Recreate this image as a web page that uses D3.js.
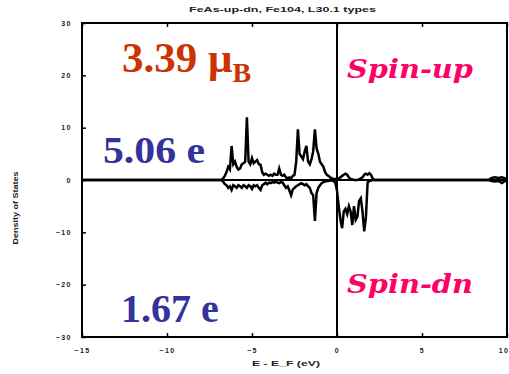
<!DOCTYPE html>
<html>
<head>
<meta charset="utf-8">
<script src="https://cdn.jsdelivr.net/npm/d3@7"></script>
<style>
  html, body { margin: 0; padding: 0; background: #fff; }
  svg { display: block; }
</style>
</head>
<body>
<svg id="chart" width="509" height="374"></svg>
<script>
// Energy grid (eV, relative to E_F) and spin-resolved DOS values
const energies = [
  -15.0, -7.0, -6.9, -6.8, -6.7, -6.6, -6.5, -6.4, -6.3, -6.2, -6.1, -6.0,
  -5.9, -5.8, -5.7, -5.6, -5.5, -5.4, -5.3, -5.2, -5.1, -5.0,
  -4.9, -4.8, -4.7, -4.6, -4.5, -4.4, -4.3, -4.2, -4.1, -4.0,
  -3.9, -3.8, -3.7, -3.6, -3.5, -3.4, -3.3, -3.2, -3.1, -3.0,
  -2.9, -2.8, -2.7, -2.6, -2.5, -2.4, -2.3, -2.2, -2.1, -2.0,
  -1.9, -1.8, -1.7, -1.6, -1.5, -1.4, -1.3, -1.2, -1.1, -1.0,
  -0.9, -0.8, -0.7, -0.6, -0.5, -0.4, -0.3, -0.2, -0.1, 0.0,
  0.1, 0.2, 0.3, 0.4, 0.5, 0.6, 0.7, 0.8, 0.9, 1.0,
  1.1, 1.2, 1.3, 1.4, 1.5, 1.6, 1.7, 1.8, 1.9, 2.0,
  2.1, 2.2, 8.9, 9.1, 9.3, 9.5, 9.7, 9.9, 10.0
];
const spinUp = [
  0, 0, 0, 0, 0.3, 0.8, 1.5, 2.5, 2.0, 6.5, 3.0, 3.5,
  2.5, 2.0, 2.2, 3.0, 3.2, 3.5, 12.0, 3.5, 3.0, 4.2,
  3.2, 3.5, 3.8, 3.0, 2.9, 1.5, 1.0, 1.2, 1.0, 0.8,
  1.0, 0.8, 1.2, 1.0, 1.0, 2.2, 1.0, 0.8, 1.0, 0.5,
  0.3, 0.5, 0.3, 0.8, 1.0, 3.5, 9.7, 5.0, 4.5, 4.0,
  5.5, 6.5, 3.5, 3.0, 4.0, 5.5, 9.7, 6.0, 5.0, 3.5,
  3.0, 2.5, 1.5, 1.0, 0.8, 0.5, 0.3, 0.2, 0.2, 0.2,
  0.3, 0.5, 0.8, 1.0, 1.2, 1.0, 0.5, 0.2, 0.1, 0,
  0, 0, 0.1, 0.3, 0.5, 1.0, 1.2, 1.0, 1.3, 1.0,
  0.3, 0, 0, 0.4, 0.5, 0.4, 0.5, 0.3, 0
];
const spinDn = [
  0, 0, 0, 0, -0.3, -0.8, -1.0, -1.5, -1.2, -1.9, -1.0, -1.2,
  -1.5, -1.0, -1.2, -1.5, -1.0, -1.2, -1.5, -1.0, -1.2, -1.7,
  -1.0, -1.2, -1.0, -1.5, -1.9, -1.0, -0.8, -0.5, -0.8, -0.5,
  -0.6, -0.4, -0.5, -0.3, -0.5, -0.6, -0.4, -0.5, -1.0, -1.5,
  -1.2, -2.0, -2.9, -1.8, -1.5, -1.2, -1.0, -0.8, -0.6, -0.8,
  -1.0, -0.8, -1.2, -1.5, -2.5, -2.9, -7.8, -2.5, -1.5, -1.0,
  -0.6, -0.4, -0.3, -0.2, -0.2, -0.1, -0.1, -0.2, -0.5, -2.0,
  -5.0, -7.5, -9.2, -6.0, -5.5, -6.5, -5.0, -6.0, -8.6, -5.0,
  -7.6, -7.0, -4.0, -3.5, -6.0, -9.8, -7.2, -0.5, -0.2, -0.1,
  0, 0, 0, -0.2, -0.3, -0.2, -0.6, -0.2, 0
];
const xTicks = [-15, -10, -5, 0, 5, 10];
const yTicks = [-30, -20, -10, 0, 10, 20, 30];

const svg = d3.select("#chart");
const plotL = 82, plotR = 507, plotT = 23, plotB = 337;

const x = d3.scaleLinear().domain([-15, 10]).range([plotL, plotR]);
const y = d3.scaleLinear().domain([-30, 30]).range([plotB, plotT]);

const sans = "Arial, 'Liberation Sans', sans-serif";

// Title
svg.append("text")
  .attr("x", 189).attr("y", 12)
  .attr("font-family", sans)
  .attr("font-size", 7).attr("font-weight", "bold")
  .attr("fill", "#222")
  .attr("textLength", 187).attr("lengthAdjust", "spacingAndGlyphs")
  .text("FeAs-up-dn, Fe104, L30.1 types");

// Axes with inward ticks
const tickFont = g => g.selectAll("text")
  .attr("font-family", sans)
  .attr("font-size", 7).attr("font-weight", "bold").attr("fill", "#222")
  .attr("letter-spacing", 1.5);

svg.append("g")
  .attr("transform", `translate(0,${plotB})`)
  .call(d3.axisBottom(x).tickValues(xTicks).tickSize(-4).tickPadding(11).tickFormat(d3.format("d")))
  .call(g => g.select(".domain").remove())
  .call(g => g.selectAll("line").attr("stroke", "#000").attr("stroke-width", 1.5))
  .call(tickFont)
  .call(g => g.selectAll("text").filter(d => d === 10).attr("text-anchor", "end").attr("dx", 2));

svg.append("g")
  .attr("transform", `translate(0,${plotT})`)
  .call(d3.axisTop(x).tickValues(xTicks).tickSize(-4).tickFormat(""))
  .call(g => g.select(".domain").remove())
  .call(g => g.selectAll("line").attr("stroke", "#000").attr("stroke-width", 1.5));

svg.append("g")
  .attr("transform", `translate(${plotL},0)`)
  .call(d3.axisLeft(y).tickValues(yTicks).tickSize(-4).tickPadding(10).tickFormat(d3.format("d")))
  .call(g => g.select(".domain").remove())
  .call(g => g.selectAll("line").attr("stroke", "#000").attr("stroke-width", 1.5))
  .call(tickFont);

// Frame
svg.append("rect")
  .attr("x", plotL).attr("y", plotT)
  .attr("width", plotR - plotL).attr("height", plotB - plotT)
  .attr("fill", "none").attr("stroke", "#000").attr("stroke-width", 2);

// Zero lines
svg.append("line")
  .attr("x1", plotL).attr("x2", plotR)
  .attr("y1", y(0)).attr("y2", y(0))
  .attr("stroke", "#000").attr("stroke-width", 2);
svg.append("line")
  .attr("x1", x(0)).attr("x2", x(0))
  .attr("y1", plotT).attr("y2", plotB)
  .attr("stroke", "#000").attr("stroke-width", 2);

// DOS curves
const line = d3.line()
  .x((d, i) => x(energies[i]))
  .y(d => y(d));
[spinUp, spinDn].forEach(series => {
  svg.append("path")
    .datum(series)
    .attr("d", line)
    .attr("fill", "none")
    .attr("stroke", "#000")
    .attr("stroke-width", 2.5)
    .attr("stroke-linejoin", "miter");
});

// Axis titles
svg.append("text")
  .attr("x", 286).attr("y", 366)
  .attr("text-anchor", "middle")
  .attr("font-family", sans)
  .attr("font-size", 7).attr("font-weight", "bold").attr("fill", "#222")
  .attr("textLength", 68).attr("lengthAdjust", "spacingAndGlyphs")
  .text("E - E_F (eV)");
svg.append("text")
  .attr("transform", "translate(18,208) rotate(-90)")
  .attr("text-anchor", "middle")
  .attr("font-family", sans)
  .attr("font-size", 7).attr("font-weight", "bold").attr("fill", "#222")
  .attr("textLength", 73).attr("lengthAdjust", "spacingAndGlyphs")
  .text("Density of States");

// Annotations
const serif = "'Liberation Serif', 'Times New Roman', serif";
const mom = svg.append("text")
  .attr("x", 122).attr("y", 72)
  .attr("font-family", serif).attr("font-weight", "bold")
  .attr("font-size", 43).attr("fill", "#cc3300");
mom.append("tspan").text("3.39 μ");
mom.append("tspan").attr("font-size", 28).attr("dy", 10).text("B");

svg.append("text")
  .attr("x", 103).attr("y", 163)
  .attr("font-family", serif).attr("font-weight", "bold")
  .attr("font-size", 38).attr("fill", "#333399")
  .attr("textLength", 102).attr("lengthAdjust", "spacingAndGlyphs")
  .text("5.06 e");

svg.append("text")
  .attr("x", 121).attr("y", 322)
  .attr("font-family", serif).attr("font-weight", "bold")
  .attr("font-size", 40).attr("fill", "#333399")
  .text("1.67 e");

const spinFont = "'DejaVu Serif', Georgia, serif";
svg.append("text")
  .attr("x", 347).attr("y", 78)
  .attr("font-family", spinFont).attr("font-weight", "bold").attr("font-style", "italic")
  .attr("font-size", 26).attr("fill", "#ff0066")
  .attr("textLength", 126).attr("lengthAdjust", "spacingAndGlyphs")
  .text("Spin-up");
svg.append("text")
  .attr("x", 347).attr("y", 293)
  .attr("font-family", spinFont).attr("font-weight", "bold").attr("font-style", "italic")
  .attr("font-size", 26).attr("fill", "#ff0066")
  .attr("textLength", 126).attr("lengthAdjust", "spacingAndGlyphs")
  .text("Spin-dn");
</script>
</body>
</html>
